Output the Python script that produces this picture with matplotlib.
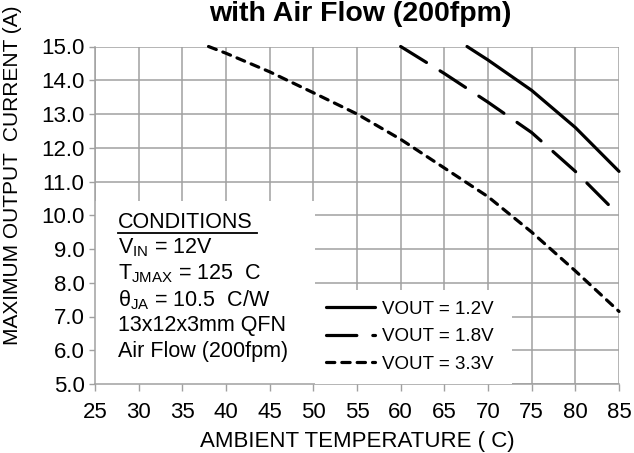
import matplotlib.pyplot as plt
from matplotlib.lines import Line2D

plt.rcParams['font.family'] = ['Liberation Sans', 'DejaVu Sans']
plt.rcParams['mathtext.fontset'] = 'custom'
plt.rcParams['mathtext.rm'] = 'Liberation Sans'
plt.rcParams['mathtext.it'] = 'Liberation Sans'

# data
temp_12 = [67.6, 70, 75, 80, 85]
iout_12 = [15.0, 14.6, 13.7, 12.6, 11.3]

temp_18 = [60, 65, 70, 75, 80, 85]
iout_18 = [15.0, 14.2, 13.35, 12.45, 11.3, 10.0]

temp_33 = [38, 40, 45, 50, 55, 60, 65, 70, 75, 80, 85]
iout_33 = [15.0, 14.8, 14.25, 13.63, 13.0, 12.25, 11.4, 10.55, 9.5, 8.35, 7.15]

x_ticks = [25, 30, 35, 40, 45, 50, 55, 60, 65, 70, 75, 80, 85]
y_ticks = [5, 6, 7, 8, 9, 10, 11, 12, 13, 14, 15]

conditions = [
    r"V$_{\rm IN}$ = 12V",
    r"T$_{\rm JMAX}$ = 125  C",
    r"θ$_{\rm JA}$ = 10.5  C/W",
    "13x12x3mm QFN",
    "Air Flow (200fpm)",
]

W, H = 634, 453
fig = plt.figure(figsize=(W / 100, H / 100), dpi=100)
ax_l, ax_r, ax_t, ax_b = 95, 619, 46.5, 384
ax = fig.add_axes([ax_l / W, 1 - ax_b / H, (ax_r - ax_l) / W, (ax_b - ax_t) / H])

ax.plot(temp_12, iout_12, color="black", lw=2.3, solid_capstyle="round",
        label="VOUT = 1.2V", clip_on=False)
ax.plot(temp_18, iout_18, color="black", lw=2.3, dashes=(9.5, 5),
        dash_capstyle="round", label="VOUT = 1.8V", clip_on=False)
ax.plot(temp_33, iout_33, color="black", lw=2.3, dashes=(2.6, 2.2),
        dash_capstyle="round", label="VOUT = 3.3V", clip_on=False)

ax.set_xlim(25, 85)
ax.set_ylim(5, 15)
ax.set_xticks(x_ticks)
ax.set_yticks(y_ticks)
ax.set_yticklabels([f"{v:.1f}" for v in y_ticks])
ax.tick_params(labelsize=16, color="#a0a0a0", width=1)
ax.tick_params(axis="x", length=5, pad=8)
ax.tick_params(axis="y", length=4, pad=3.5)
ax.grid(True, color="#a0a0a0", lw=1.1)
ax.set_axisbelow(True)
for side in ["top", "right"]:
    ax.spines[side].set_visible(False)
for side in ["left", "bottom"]:
    ax.spines[side].set_color("#a0a0a0")
    ax.spines[side].set_linewidth(1.1)

# white box for the conditions note
box_top = (ax_b - 201) / (ax_b - ax_t)
box_right = (315 - ax_l) / (ax_r - ax_l)
ax.add_patch(plt.Rectangle((0, 0), box_right, box_top, transform=ax.transAxes,
                           facecolor="white", edgecolor="none", zorder=1.5))
fig.text(118 / W, 1 - 222 / H, "CONDITIONS", fontsize=15.5, va="center")
fig.add_artist(Line2D([118 / W, 257 / W], [1 - 233 / H, 1 - 233 / H],
                      color="black", lw=1.3))
line_y = [248, 274, 300, 326, 352]
for y, line in zip(line_y, conditions):
    fig.text(118 / W, 1 - y / H, line, fontsize=15.5, va="center")

leg_w = (512 - 315) / (ax_r - ax_l)
leg_h = (ax_b - 282) / (ax_b - ax_t)
leg = ax.legend(loc="lower left", bbox_to_anchor=(box_right, 0.0, leg_w, leg_h),
                mode="expand", fontsize=13.5, frameon=True, fancybox=False,
                edgecolor="none", framealpha=1, handlelength=2.6,
                handletextpad=0.4, labelspacing=0.55, borderaxespad=0,
                borderpad=0.6)
leg.set_zorder(3)

fig.text(360 / W, 1 - 14 / H, "with Air Flow (200fpm)", fontsize=20.5,
         fontweight="bold", ha="center", va="center")
fig.text(357 / W, 1 - 442 / H, "AMBIENT TEMPERATURE ( C)", fontsize=16,
         ha="center", va="center")
fig.text(13 / W, 1 - 345 / H, "MAXIMUM OUTPUT  CURRENT (A)", fontsize=15,
         rotation=90, ha="center", va="bottom")

fig.savefig("out.png", dpi=100)
